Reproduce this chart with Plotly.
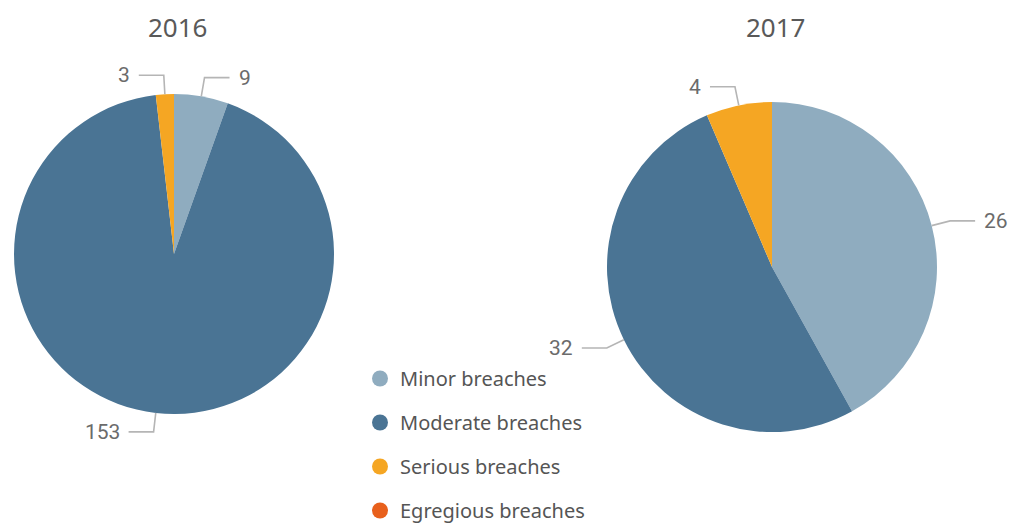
import math
import plotly.graph_objects as go

# ---- data ----
categories = ["Minor breaches", "Moderate breaches", "Serious breaches", "Egregious breaches"]
values_2016 = [9, 153, 3, 0]
values_2017 = [26, 32, 4, 0]
years = ["2016", "2017"]
colors = ["#8FACBF", "#4A7494", "#F5A623", "#E8601C"]

W, H = 1010, 528

# pie geometry (pixels): center x, center y (from top), radius
geo = {
    "2016": (174, 254, 160),
    "2017": (772, 267, 165),
}

fig = go.Figure()

def domain(cx, cy, r):
    return dict(x=[(cx - r) / W, (cx + r) / W],
                y=[(H - cy - r) / H, (H - cy + r) / H])

for yr, vals in zip(years, [values_2016, values_2017]):
    cx, cy, r = geo[yr]
    fig.add_trace(go.Pie(
        labels=categories, values=vals, sort=False, direction="clockwise",
        rotation=0, textinfo="none", showlegend=False,
        marker=dict(colors=colors, line=dict(width=0)),
        domain=domain(cx, cy, r), hoverinfo="label+value",
    ))

# leader lines and labels computed from data
shapes = []
annotations = []
label_font = dict(family="Roboto, Noto Sans", size=21, color="#6B6B6B")
line_col = "#B5B5B5"

def P(x, y):
    return x / W, 1 - y / H

for yr, vals in zip(years, [values_2016, values_2017]):
    cx, cy, r = geo[yr]
    total = sum(vals)
    cum = 0
    for v in vals:
        if v == 0:
            cum += v
            continue
        mid = (cum + v / 2) / total * 2 * math.pi
        cum += v
        s, c = math.sin(mid), math.cos(mid)
        ex, ey = cx + r * s, cy - r * c
        ext = 19
        bx, by = cx + (r + ext) * s, cy - (r + ext) * c
        side = 1 if s >= 0 else -1
        hx = bx + side * 25
        x0, y0 = P(ex, ey)
        x1, y1 = P(bx, by)
        x2, y2 = P(hx, by)
        shapes.append(dict(type="path", xref="paper", yref="paper",
                           path=f"M {x0} {y0} L {x1} {y1} L {x2} {y2}",
                           line=dict(color=line_col, width=1.6)))
        annotations.append(dict(
            x=(hx + side * 7) / W, y=1 - by / H, xref="paper", yref="paper",
            text=str(v), showarrow=False, font=label_font,
            xanchor="left" if side > 0 else "right", yanchor="middle"))

    annotations.append(dict(
        x=(cx + 4) / W, y=1 - 27 / H, xref="paper", yref="paper", text=yr,
        showarrow=False, font=dict(family="Noto Sans", size=26, color="#595959"),
        xanchor="center", yanchor="middle"))

# legend with circle markers
for cat, col in zip(categories, colors):
    fig.add_trace(go.Scatter(
        x=[None], y=[None], mode="markers", name=cat, legendgroup=cat,
        marker=dict(symbol="circle", size=20, color=col), showlegend=True))

fig.update_layout(
    width=W, height=H, margin=dict(l=0, r=0, t=0, b=0, autoexpand=False),
    paper_bgcolor="white", plot_bgcolor="white",
    xaxis=dict(visible=False), yaxis=dict(visible=False),
    shapes=shapes, annotations=annotations,
    legend=dict(x=360 / W, y=1 - 359 / H, xanchor="left", yanchor="top",
                font=dict(family="Noto Sans", size=20, color="#555555"),
                tracegroupgap=15, bgcolor="rgba(0,0,0,0)"),
)

fig.write_html("out.html", config={"displayModeBar": False},
               post_script="document.body.style.margin='0';document.body.style.overflow='hidden';")
